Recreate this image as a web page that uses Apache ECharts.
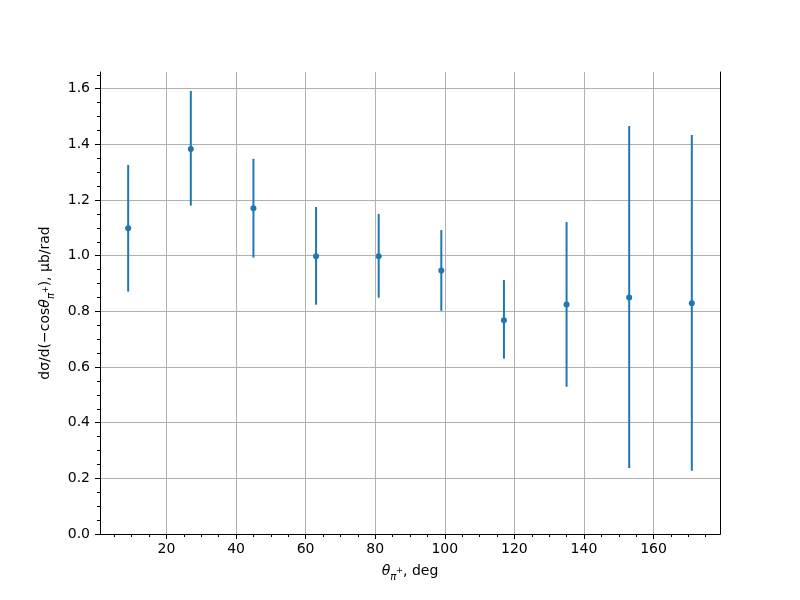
<!DOCTYPE html>
<html>
<head>
<meta charset="utf-8">
<script src="https://cdn.jsdelivr.net/npm/echarts@6/dist/echarts.min.js"></script>
<style>html,body{margin:0;padding:0;background:#fff}#c{width:800px;height:600px}</style>
</head>
<body>
<div id="c"></div>
<script>
const thetas = [9, 27, 45, 63, 81, 99, 117, 135, 153, 171];
const values = [1.099, 1.383, 1.170, 0.998, 0.998, 0.947, 0.768, 0.825, 0.850, 0.829];
const errLow = [0.228, 0.203, 0.177, 0.174, 0.149, 0.145, 0.138, 0.296, 0.613, 0.602];
const errHigh = [0.227, 0.209, 0.178, 0.177, 0.152, 0.145, 0.145, 0.296, 0.616, 0.605];
const xMajorTicks = [20, 40, 60, 80, 100, 120, 140, 160];
const xMinorTicks = [5, 10, 15, 25, 30, 35, 45, 50, 55, 65, 70, 75, 85, 90, 95, 105, 110, 115, 125, 130, 135, 145, 150, 155, 165, 170, 175];
const yMajorTicks = [0, 0.2, 0.4, 0.6, 0.8, 1.0, 1.2, 1.4, 1.6];
const yMinorTicks = [0.05, 0.1, 0.15, 0.25, 0.3, 0.35, 0.45, 0.5, 0.55, 0.65, 0.7, 0.75, 0.85, 0.9, 0.95, 1.05, 1.1, 1.15, 1.25, 1.3, 1.35, 1.45, 1.5, 1.55, 1.65];

const FONT = 'DejaVu Sans';
const BLUE = '#1f77b4';
const X_MIN = 0.9, X_MAX = 179.1, Y_MIN = 0, Y_MAX = 1.66;

const errData = thetas.map((t, i) => [t, values[i] - errLow[i], values[i] + errHigh[i]]);
const ptData = thetas.map((t, i) => [t, values[i]]);

const nameRich = {
  n: {fontFamily: FONT, fontSize: 14, color: '#000', lineHeight: 22, verticalAlign: 'middle'},
  i: {fontFamily: FONT, fontSize: 14, fontStyle: 'italic', color: '#000', lineHeight: 22, verticalAlign: 'middle'},
  sub: {fontFamily: FONT, fontSize: 10, fontStyle: 'italic', color: '#000', lineHeight: 14, verticalAlign: 'bottom'},
  sup: {fontFamily: FONT, fontSize: 8, color: '#000', lineHeight: 22, verticalAlign: 'middle'}
};

const chart = echarts.init(document.getElementById('c'), null, {renderer: 'canvas'});
chart.setOption({
  animation: false,
  backgroundColor: '#fff',
  grid: {left: 100, right: 80, top: 72, bottom: 66, containLabel: false},
  xAxis: [
    {
      type: 'value', min: X_MIN, max: X_MAX, position: 'bottom',
      axisLine: {show: false},
      axisTick: {show: true, inside: false, length: 5, customValues: xMajorTicks, lineStyle: {color: '#000', width: 1}},
      axisLabel: {show: true, customValues: xMajorTicks, fontFamily: FONT, fontSize: 14, color: '#000', margin: 8},
      splitLine: {show: true, lineStyle: {color: '#b0b0b0', width: 1}},
      name: '{i|θ}{sub|π}{sup|+}{n|, deg}',
      nameLocation: 'middle', nameGap: 26,
      nameTextStyle: {rich: nameRich}
    },
    {
      type: 'value', min: X_MIN, max: X_MAX, position: 'bottom', z: 3,
      axisLine: {show: true, lineStyle: {color: '#000', width: 1}},
      axisTick: {show: true, inside: false, length: 3, customValues: xMinorTicks, lineStyle: {color: '#000', width: 1}},
      axisLabel: {show: false},
      splitLine: {show: false}
    },
    {
      type: 'value', min: X_MIN, max: X_MAX, position: 'top', z: 3,
      axisLine: {show: true, lineStyle: {color: '#000', width: 1}},
      axisTick: {show: false}, axisLabel: {show: false}, splitLine: {show: false}
    }
  ],
  yAxis: [
    {
      type: 'value', min: Y_MIN, max: Y_MAX, position: 'left',
      axisLine: {show: false},
      axisTick: {show: true, inside: false, length: 5, customValues: yMajorTicks, lineStyle: {color: '#000', width: 1}},
      axisLabel: {show: true, customValues: yMajorTicks, fontFamily: FONT, fontSize: 14, color: '#000', margin: 10,
        formatter: v => Number(v).toFixed(1)},
      splitLine: {show: true, lineStyle: {color: '#b0b0b0', width: 1}},
      name: '{n|dσ/d(−cos}{i|θ}{sub|π}{sup|+}{n|), μb/rad}',
      nameLocation: 'middle', nameGap: 36, nameRotate: 90,
      nameTextStyle: {rich: nameRich}
    },
    {
      type: 'value', min: Y_MIN, max: Y_MAX, position: 'left', z: 3,
      axisLine: {show: true, lineStyle: {color: '#000', width: 1}},
      axisTick: {show: true, inside: false, length: 3, customValues: yMinorTicks, lineStyle: {color: '#000', width: 1}},
      axisLabel: {show: false},
      splitLine: {show: false}
    },
    {
      type: 'value', min: Y_MIN, max: Y_MAX, position: 'right', z: 3,
      axisLine: {show: true, lineStyle: {color: '#000', width: 1}},
      axisTick: {show: false}, axisLabel: {show: false}, splitLine: {show: false}
    }
  ],
  series: [
    {
      type: 'custom',
      xAxisIndex: 0, yAxisIndex: 0,
      data: errData,
      encode: {x: 0, y: [1, 2]},
      renderItem: function (params, api) {
        const x = api.value(0);
        const p1 = api.coord([x, api.value(1)]);
        const p2 = api.coord([x, api.value(2)]);
        return {
          type: 'line',
          shape: {x1: p1[0], y1: p1[1], x2: p2[0], y2: p2[1]},
          style: {stroke: BLUE, lineWidth: 2}
        };
      },
      z: 4
    },
    {
      type: 'scatter',
      xAxisIndex: 0, yAxisIndex: 0,
      data: ptData,
      symbol: 'circle', symbolSize: 6,
      itemStyle: {color: BLUE, opacity: 1},
      z: 5
    }
  ]
});
</script>
</body>
</html>
